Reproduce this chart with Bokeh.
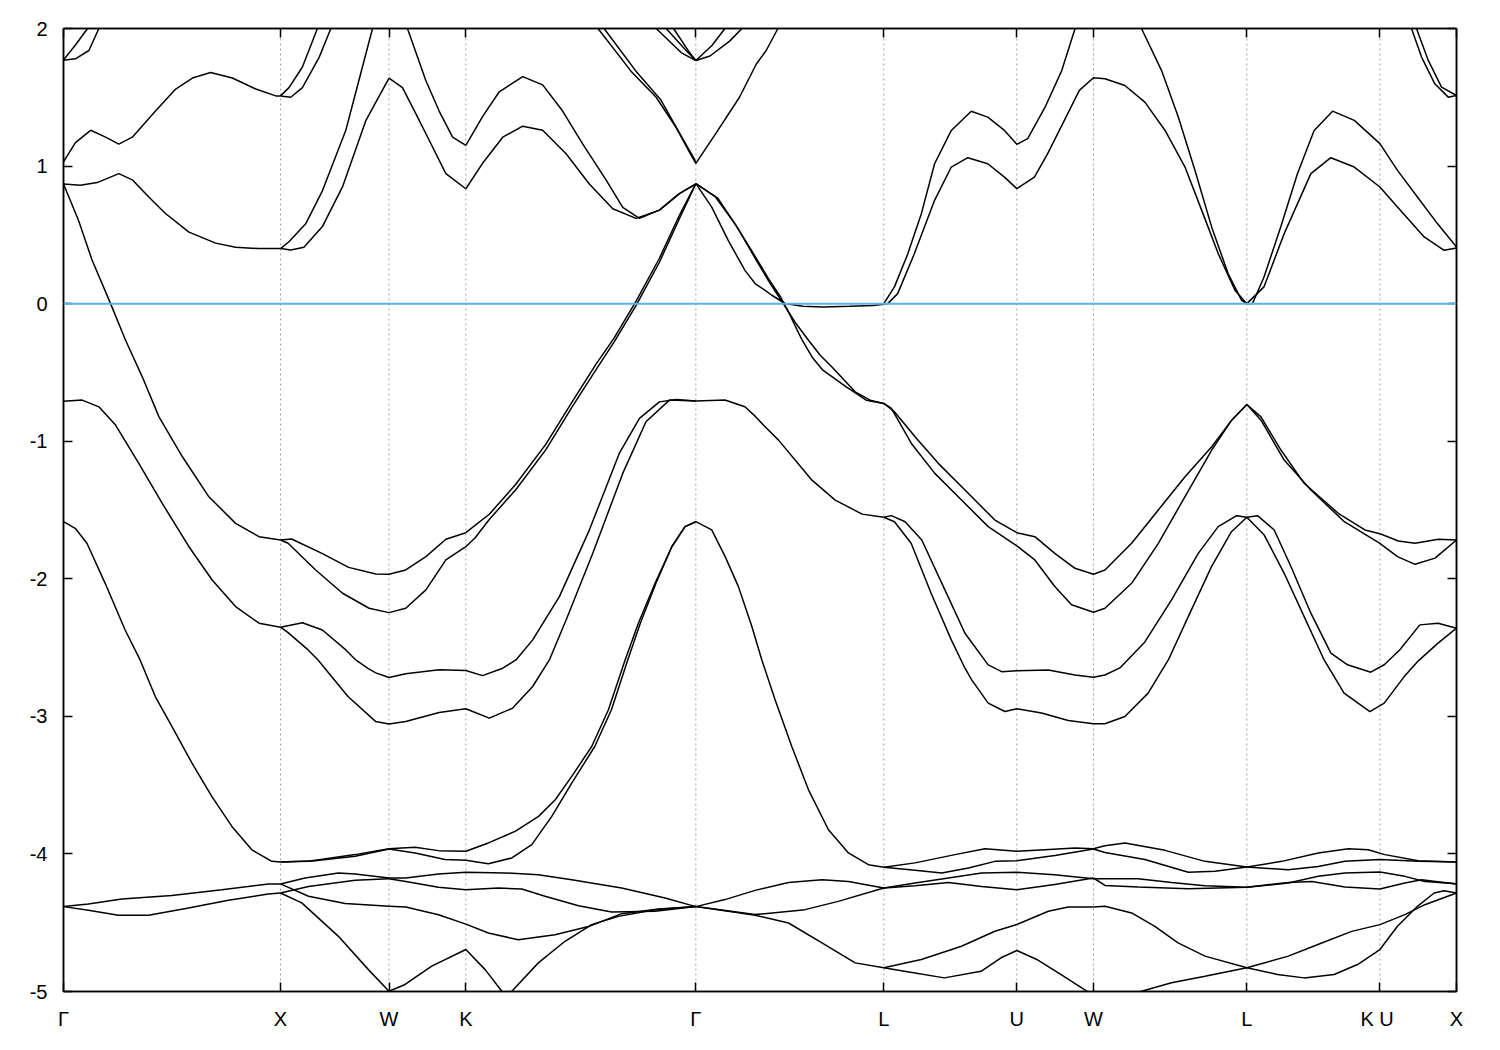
from bokeh.plotting import figure
from bokeh.models import Range1d, FixedTicker, LinearAxis, Span
from bokeh.embed import file_html
from bokeh.resources import INLINE

# ---------------- axes data ----------------
hs_labels = ["Γ", "X", "W", "K", "Γ", "L", "U", "W", "L", "K  U", "X"]
hs_k = [0.0, 1.0, 1.5, 1.854, 2.914, 3.780, 4.393, 4.746, 5.453, 6.066, 6.419]
e_ticks = [-5, -4, -3, -2, -1, 0, 1, 2]
k_min, k_max = 0.0, 6.419
e_min, e_max = -5.0, 2.0
fermi_level = 0.0

# ---------------- band curves: (k, E in eV) ----------------
A1 = [(0.0, 1.77), (0.055, 1.88), (0.111, 2.0), (0.148, 2.09)]
A2 = [(0.0, 1.77), (0.055, 1.78), (0.117, 1.84), (0.163, 2.0), (0.185, 2.09)]
B = [(0.0, 1.03), (0.055, 1.17), (0.125, 1.26), (0.194, 1.21), (0.255, 1.16), (0.317, 1.21), (0.424, 1.40),
     (0.517, 1.56), (0.594, 1.64), (0.678, 1.68), (0.778, 1.64), (0.886, 1.56), (0.978, 1.51), (1.0, 1.51)]
XW_top1 = [(1.0, 1.51), (1.039, 1.57), (1.101, 1.72), (1.170, 2.0), (1.195, 2.09)]
XW_top2 = [(1.0, 1.51), (1.047, 1.50), (1.101, 1.57), (1.178, 1.79), (1.232, 2.0), (1.255, 2.09)]
C = [(0.0, 0.87), (0.078, 0.86), (0.155, 0.88), (0.255, 0.945), (0.317, 0.90), (0.393, 0.775), (0.470, 0.655),
     (0.578, 0.52), (0.701, 0.44), (0.793, 0.41), (0.899, 0.40), (1.0, 0.40)]
C_a = [(1.0, 0.40), (1.039, 0.45), (1.116, 0.58), (1.193, 0.82), (1.301, 1.26), (1.424, 2.0), (1.439, 2.09)]
C_b = [(1.0, 0.40), (1.047, 0.39), (1.108, 0.41), (1.193, 0.56), (1.286, 0.85), (1.393, 1.33), (1.5, 1.64),
       (1.562, 1.57), (1.624, 1.38), (1.670, 1.235), (1.762, 0.945), (1.854, 0.835), (1.931, 1.02), (2.024, 1.21),
       (2.116, 1.29), (2.208, 1.26), (2.316, 1.09), (2.423, 0.87), (2.531, 0.69), (2.638, 0.62), (2.746, 0.68),
       (2.838, 0.80), (2.914, 0.87)]
WK_top = [(1.559, 2.09), (1.585, 2.0), (1.670, 1.62), (1.731, 1.40), (1.793, 1.21), (1.854, 1.15), (1.931, 1.36),
          (2.008, 1.54), (2.116, 1.65), (2.208, 1.59), (2.300, 1.40), (2.393, 1.16), (2.500, 0.90), (2.577, 0.70),
          (2.654, 0.62), (2.746, 0.68), (2.838, 0.80), (2.914, 0.87)]
G2_top1 = [(2.431, 2.09), (2.463, 2.0), (2.615, 1.69), (2.731, 1.50), (2.823, 1.28), (2.892, 1.08), (2.914, 1.02)]
G2_top2 = [(2.463, 2.09), (2.491, 2.0), (2.638, 1.69), (2.753, 1.48), (2.846, 1.22), (2.906, 1.055), (2.914, 1.02)]
G2_right = [(2.914, 1.02), (3.007, 1.24), (3.115, 1.50), (3.192, 1.74), (3.238, 1.84), (3.292, 2.0), (3.321, 2.09)]
T1 = [(2.661, 2.09), (2.731, 2.0), (2.846, 1.825), (2.914, 1.767)]
T2 = [(2.731, 2.09), (2.777, 2.0), (2.869, 1.84), (2.914, 1.767)]
T3 = [(2.792, 2.09), (2.811, 2.0), (2.885, 1.825), (2.914, 1.767)]
T4 = [(2.914, 1.767), (2.979, 1.80), (3.071, 1.91), (3.126, 2.0), (3.163, 2.09)]
T5 = [(2.914, 1.767), (2.988, 1.876), (3.048, 2.0), (3.085, 2.09)]

D = [(0.0, 0.87), (0.069, 0.606), (0.132, 0.315), (0.217, 0.0), (0.286, -0.266), (0.363, -0.532), (0.440, -0.823),
     (0.548, -1.113), (0.670, -1.404), (0.793, -1.597), (0.901, -1.694), (1.0, -1.718)]
D_up = [(1.0, -1.718), (1.051, -1.711), (1.191, -1.815), (1.314, -1.917), (1.439, -1.965), (1.5, -1.967),
        (1.577, -1.936), (1.670, -1.839), (1.762, -1.713), (1.854, -1.665)]
D_lo = [(1.0, -1.718), (1.035, -1.742), (1.162, -1.936), (1.286, -2.105), (1.408, -2.214), (1.5, -2.246),
        (1.577, -2.214), (1.670, -2.081), (1.762, -1.863), (1.854, -1.767)]
Dk1 = [(1.854, -1.665), (1.962, -1.531), (2.085, -1.311), (2.223, -1.021), (2.346, -0.709), (2.454, -0.440),
       (2.537, -0.251), (2.638, 0.017), (2.746, 0.330), (2.838, 0.642), (2.914, 0.872)]
Dk2 = [(1.854, -1.767), (1.896, -1.704), (1.962, -1.569), (2.085, -1.351), (2.223, -1.061), (2.346, -0.745),
       (2.454, -0.480), (2.537, -0.280), (2.638, -0.015), (2.746, 0.301), (2.838, 0.617), (2.914, 0.872)]
GL1 = [(2.914, 0.872), (2.987, 0.702), (3.063, 0.460), (3.140, 0.242), (3.187, 0.146), (3.233, 0.097),
       (3.264, 0.061), (3.325, 0.001), (3.407, -0.019), (3.499, -0.024), (3.622, -0.019), (3.730, -0.014),
       (3.780, -0.004)]
GL2 = [(2.914, 0.872), (3.002, 0.780), (3.094, 0.580), (3.173, 0.380), (3.247, 0.185), (3.302, 0.054),
       (3.348, -0.084), (3.381, -0.193), (3.404, -0.266), (3.450, -0.389), (3.499, -0.484), (3.607, -0.605),
       (3.699, -0.702), (3.780, -0.726)]
GL3 = [(2.914, 0.872), (3.016, 0.765), (3.108, 0.547), (3.187, 0.330), (3.256, 0.148), (3.316, 0.003),
       (3.371, -0.135), (3.433, -0.266), (3.487, -0.375), (3.541, -0.460), (3.648, -0.641), (3.717, -0.702),
       (3.780, -0.726)]

E = [(0.0, -0.709), (0.086, -0.701), (0.163, -0.750), (0.240, -0.883), (0.347, -1.161), (0.455, -1.452),
     (0.578, -1.767), (0.685, -2.009), (0.793, -2.202), (0.901, -2.323), (1.0, -2.352)]
E_up = [(1.0, -2.352), (1.101, -2.319), (1.193, -2.372), (1.301, -2.517), (1.347, -2.590), (1.401, -2.650),
        (1.439, -2.684), (1.5, -2.718), (1.577, -2.691), (1.731, -2.662), (1.854, -2.667), (1.931, -2.704),
        (2.024, -2.650), (2.085, -2.590), (2.162, -2.444), (2.285, -2.130), (2.423, -1.646), (2.561, -1.089),
        (2.654, -0.834), (2.746, -0.714), (2.823, -0.696), (2.914, -0.707)]
E_lo = [(1.0, -2.352), (1.035, -2.391), (1.127, -2.517), (1.173, -2.590), (1.204, -2.650), (1.311, -2.856),
        (1.439, -3.038), (1.5, -3.056), (1.577, -3.038), (1.731, -2.972), (1.854, -2.945), (1.962, -3.013),
        (2.070, -2.940), (2.162, -2.783), (2.239, -2.590), (2.316, -2.300), (2.439, -1.815), (2.577, -1.234),
        (2.684, -0.859), (2.792, -0.701), (2.914, -0.707)]
GL_mid = [(2.914, -0.707), (3.048, -0.701), (3.140, -0.750), (3.187, -0.818), (3.233, -0.895), (3.295, -0.992),
          (3.449, -1.283), (3.556, -1.428), (3.680, -1.530), (3.780, -1.553)]

LUW_up = [(3.780, -1.553), (3.815, -1.541), (3.878, -1.585), (3.955, -1.718), (4.062, -2.082), (4.154, -2.396),
          (4.261, -2.626), (4.323, -2.675), (4.393, -2.668), (4.538, -2.663), (4.661, -2.699), (4.746, -2.716),
          (4.799, -2.699), (4.868, -2.648), (4.983, -2.459), (5.106, -2.154), (5.229, -1.815), (5.321, -1.621),
          (5.406, -1.541), (5.453, -1.553)]
LUW_lo = [(3.780, -1.553), (3.829, -1.585), (3.906, -1.742), (3.998, -2.105), (4.091, -2.444), (4.154, -2.650),
          (4.185, -2.735), (4.261, -2.904), (4.338, -2.965), (4.393, -2.945), (4.507, -2.976), (4.630, -3.030),
          (4.746, -3.054), (4.799, -3.054), (4.891, -3.001), (4.998, -2.831), (5.091, -2.590), (5.183, -2.275),
          (5.290, -1.912), (5.382, -1.658), (5.453, -1.553)]
LKX_a = [(5.453, -1.553), (5.502, -1.541), (5.579, -1.645), (5.656, -1.911), (5.748, -2.250), (5.840, -2.540),
         (5.917, -2.625), (6.024, -2.679), (6.086, -2.625), (6.158, -2.516), (6.250, -2.335), (6.334, -2.323),
         (6.419, -2.359)]
LKX_b = [(5.453, -1.553), (5.533, -1.682), (5.625, -1.960), (5.717, -2.275), (5.809, -2.590), (5.901, -2.831),
         (6.020, -2.965), (6.086, -2.904), (6.178, -2.711), (6.238, -2.604), (6.334, -2.468), (6.419, -2.359)]
P_LUW = [(3.780, -0.725), (3.829, -0.786), (3.924, -0.968), (4.031, -1.161), (4.154, -1.355), (4.292, -1.573),
         (4.393, -1.665), (4.476, -1.694), (4.568, -1.815), (4.661, -1.924), (4.746, -1.967), (4.799, -1.936),
         (4.922, -1.742), (5.045, -1.500), (5.168, -1.258), (5.291, -1.040), (5.383, -0.847), (5.453, -0.733)]
Q_LUW = [(3.780, -0.725), (3.815, -0.762), (3.907, -1.016), (4.015, -1.234), (4.138, -1.427), (4.261, -1.621),
         (4.393, -1.761), (4.476, -1.863), (4.568, -2.056), (4.645, -2.189), (4.746, -2.243), (4.799, -2.214),
         (4.922, -2.033), (5.045, -1.742), (5.168, -1.403), (5.291, -1.064), (5.383, -0.847), (5.453, -0.733)]
R_LKX = [(5.453, -0.733), (5.518, -0.823), (5.610, -1.064), (5.717, -1.306), (5.874, -1.524), (5.997, -1.645),
         (6.070, -1.674), (6.151, -1.725), (6.228, -1.742), (6.335, -1.713), (6.419, -1.718)]
S_LKX = [(5.453, -0.733), (5.518, -0.847), (5.625, -1.137), (5.748, -1.355), (5.902, -1.585), (6.066, -1.742),
         (6.147, -1.839), (6.228, -1.895), (6.320, -1.850), (6.419, -1.718)]

F = [(0.0, -1.585), (0.054, -1.633), (0.108, -1.742), (0.192, -2.033), (0.284, -2.372), (0.353, -2.590),
     (0.423, -2.856), (0.500, -3.074), (0.592, -3.340), (0.684, -3.583), (0.776, -3.800), (0.868, -3.970),
     (0.960, -4.054), (1.0, -4.058)]
F_up = [(1.0, -4.058), (1.129, -4.054), (1.344, -4.005), (1.5, -3.962), (1.620, -3.952), (1.728, -3.976),
        (1.854, -3.981), (1.958, -3.920), (2.081, -3.836), (2.189, -3.727), (2.266, -3.606), (2.342, -3.436),
        (2.434, -3.219), (2.511, -2.952), (2.588, -2.590), (2.649, -2.323), (2.726, -2.033), (2.803, -1.767),
        (2.864, -1.621), (2.914, -1.585)]
F_lo = [(1.0, -4.058), (1.159, -4.049), (1.344, -4.017), (1.5, -3.964), (1.620, -3.993), (1.758, -4.041),
        (1.854, -4.046), (1.958, -4.072), (2.066, -4.029), (2.158, -3.932), (2.250, -3.727), (2.342, -3.485),
        (2.448, -3.219), (2.525, -2.952), (2.600, -2.590), (2.658, -2.323), (2.730, -2.033), (2.803, -1.767),
        (2.864, -1.621), (2.914, -1.585)]
F_GL = [(2.914, -1.585), (2.987, -1.645), (3.049, -1.839), (3.110, -2.057), (3.172, -2.347), (3.218, -2.590),
        (3.279, -2.880), (3.356, -3.219), (3.433, -3.534), (3.525, -3.824), (3.617, -3.993), (3.709, -4.078),
        (3.780, -4.097)]
LX_up = [(3.780, -4.097), (3.924, -4.065), (4.108, -4.005), (4.246, -3.962), (4.393, -3.981), (4.521, -3.969),
         (4.661, -3.957), (4.746, -3.962), (4.799, -3.940), (4.891, -3.920), (5.076, -3.974), (5.260, -4.054),
         (5.453, -4.095), (5.614, -4.054), (5.782, -3.993), (5.921, -3.962), (6.012, -3.969), (6.089, -4.005),
         (6.243, -4.049), (6.419, -4.058)]
LX_lo = [(3.780, -4.097), (3.924, -4.119), (4.047, -4.138), (4.170, -4.102), (4.292, -4.054), (4.393, -4.049),
         (4.568, -4.012), (4.746, -3.964), (4.799, -3.989), (4.983, -4.041), (5.183, -4.133), (5.306, -4.126),
         (5.453, -4.095), (5.643, -4.115), (5.782, -4.091), (5.905, -4.054), (6.066, -4.041), (6.243, -4.054),
         (6.419, -4.058)]

G1 = [(0.0, -4.383), (0.115, -4.364), (0.269, -4.327), (0.499, -4.303), (0.730, -4.260), (0.944, -4.218),
      (1.0, -4.218)]
G2 = [(0.0, -4.383), (0.115, -4.410), (0.253, -4.446), (0.392, -4.446), (0.576, -4.393), (0.760, -4.337),
      (0.944, -4.291), (1.0, -4.284)]
H1 = [(1.0, -4.218), (1.113, -4.175), (1.267, -4.138), (1.344, -4.146), (1.5, -4.175)]
H2 = [(1.0, -4.218), (1.129, -4.308), (1.298, -4.361), (1.5, -4.381)]
H3 = [(1.0, -4.284), (1.129, -4.236), (1.344, -4.192), (1.5, -4.180)]
H4 = [(1.0, -4.284), (1.098, -4.356), (1.267, -4.599), (1.405, -4.841), (1.5, -4.998)]
I1 = [(1.5, -4.175), (1.577, -4.175), (1.728, -4.146), (1.854, -4.134), (2.035, -4.138), (2.188, -4.151),
      (2.342, -4.187), (2.572, -4.247), (2.772, -4.320), (2.914, -4.383)]
I2 = [(1.5, -4.180), (1.577, -4.200), (1.728, -4.243), (1.854, -4.260), (2.004, -4.248), (2.112, -4.255),
      (2.219, -4.308), (2.373, -4.376), (2.526, -4.422), (2.726, -4.417), (2.914, -4.383)]
I3 = [(1.5, -4.381), (1.577, -4.386), (1.728, -4.442), (1.854, -4.510), (1.958, -4.575), (2.096, -4.624),
      (2.265, -4.588), (2.419, -4.527), (2.573, -4.434), (2.742, -4.400), (2.914, -4.383)]
I4 = [(1.5, -4.998), (1.574, -4.949), (1.697, -4.816), (1.854, -4.695), (1.943, -4.841), (2.020, -4.998),
      (2.040, -5.04)]
I5 = [(2.049, -5.04), (2.066, -4.998), (2.188, -4.792), (2.311, -4.635), (2.434, -4.514), (2.557, -4.454),
      (2.726, -4.405), (2.914, -4.383)]
J1 = [(2.914, -4.383), (3.048, -4.332), (3.187, -4.265), (3.341, -4.207), (3.495, -4.187), (3.617, -4.200),
      (3.780, -4.248)]
J2 = [(2.914, -4.383), (3.110, -4.424), (3.187, -4.441), (3.417, -4.405), (3.570, -4.345), (3.780, -4.248)]
J3 = [(2.914, -4.383), (3.110, -4.427), (3.187, -4.445), (3.341, -4.502), (3.495, -4.647), (3.648, -4.792),
      (3.780, -4.828)]
K1 = [(3.780, -4.248), (3.924, -4.211), (4.078, -4.175), (4.231, -4.138), (4.393, -4.134), (4.567, -4.151),
      (4.746, -4.180)]
K2 = [(3.780, -4.248), (3.924, -4.231), (4.078, -4.207), (4.231, -4.236), (4.393, -4.260), (4.567, -4.223),
      (4.746, -4.175)]
M1 = [(4.746, -4.180), (4.799, -4.180), (4.952, -4.180), (5.106, -4.207), (5.260, -4.231), (5.453, -4.243),
      (5.644, -4.211), (5.782, -4.163), (5.905, -4.138), (6.066, -4.131), (6.181, -4.163), (6.273, -4.200),
      (6.419, -4.216)]
M2 = [(4.746, -4.175), (4.799, -4.229), (4.952, -4.241), (5.183, -4.254), (5.453, -4.243), (5.644, -4.207),
      (5.752, -4.200), (5.905, -4.240), (6.066, -4.255), (6.181, -4.211), (6.258, -4.187), (6.419, -4.218)]
N1 = [(4.746, -4.386), (4.799, -4.381), (4.922, -4.429), (5.029, -4.526), (5.136, -4.647), (5.260, -4.743),
      (5.453, -4.828), (5.594, -4.876), (5.717, -4.901), (5.855, -4.876), (5.963, -4.804), (6.066, -4.695),
      (6.147, -4.526), (6.239, -4.381), (6.316, -4.284), (6.362, -4.267), (6.419, -4.284)]
N2 = [(4.868, -5.04), (4.968, -4.998), (5.106, -4.937), (5.260, -4.889), (5.453, -4.828), (5.644, -4.743),
      (5.798, -4.647), (5.936, -4.563), (6.066, -4.514), (6.181, -4.441), (6.273, -4.369), (6.419, -4.284)]
O1 = [(3.780, -4.828), (3.953, -4.767), (4.138, -4.671), (4.292, -4.562), (4.393, -4.513), (4.538, -4.417),
      (4.630, -4.386), (4.746, -4.386)]
O2 = [(3.780, -4.828), (3.875, -4.853), (4.059, -4.901), (4.228, -4.853), (4.320, -4.755), (4.393, -4.702),
      (4.485, -4.767), (4.608, -4.889), (4.715, -4.998), (4.769, -5.06)]

U1 = [(3.780, 0.0), (3.829, 0.122), (3.891, 0.364), (3.953, 0.654), (4.014, 1.017), (4.091, 1.259),
      (4.183, 1.399), (4.259, 1.356), (4.336, 1.259), (4.393, 1.158), (4.443, 1.199), (4.523, 1.428),
      (4.600, 1.694), (4.661, 1.998), (4.684, 2.094)]
U2 = [(3.780, 0.0), (3.798, 0.0), (3.844, 0.073), (3.921, 0.364), (4.014, 0.751), (4.091, 0.993), (4.167, 1.061),
      (4.259, 1.017), (4.336, 0.920), (4.393, 0.836), (4.474, 0.920), (4.535, 1.090), (4.612, 1.332),
      (4.681, 1.550), (4.746, 1.642), (4.799, 1.635), (4.891, 1.586), (4.983, 1.465), (5.076, 1.259),
      (5.168, 0.993), (5.245, 0.678), (5.321, 0.364), (5.398, 0.097), (5.453, 0.0)]
U3 = [(4.951, 2.094), (4.968, 1.998), (5.060, 1.694), (5.137, 1.356), (5.214, 0.968), (5.291, 0.556),
      (5.367, 0.217), (5.429, 0.024), (5.453, 0.0)]
V1 = [(5.453, 0.0), (5.479, 0.001), (5.532, 0.194), (5.609, 0.557), (5.686, 0.944), (5.763, 1.259),
      (5.848, 1.399), (5.948, 1.332), (6.066, 1.163), (6.147, 0.969), (6.239, 0.775), (6.331, 0.582),
      (6.419, 0.412)]
V2 = [(5.453, 0.0), (5.532, 0.122), (5.625, 0.509), (5.748, 0.945), (5.840, 1.061), (5.948, 0.993),
      (6.066, 0.848), (6.147, 0.703), (6.270, 0.485), (6.362, 0.388), (6.419, 0.404)]
W1 = [(6.199, 2.094), (6.212, 1.998), (6.258, 1.792), (6.319, 1.598), (6.381, 1.501), (6.419, 1.513)]
W2 = [(6.218, 2.094), (6.235, 1.998), (6.289, 1.768), (6.350, 1.574), (6.419, 1.513)]

bands = [A1, A2, B, XW_top1, XW_top2, C, C_a, C_b, WK_top, G2_top1, G2_top2, G2_right, T1, T2, T3, T4, T5,
         D, D_up, D_lo, Dk1, Dk2, GL1, GL2, GL3, E, E_up, E_lo, GL_mid, LUW_up, LUW_lo, LKX_a, LKX_b,
         P_LUW, Q_LUW, R_LKX, S_LKX, F, F_up, F_lo, F_GL, LX_up, LX_lo, G1, G2, H1, H2, H3, H4,
         I1, I2, I3, I4, I5, J1, J2, J3, K1, K2, M1, M2, N1, N2, O1, O2, U1, U2, U3, V1, V2, W1, W2]

# ---------------- figure ----------------
FONT = "Liberation Sans"
p = figure(width=1491, height=1036, x_range=Range1d(k_min, k_max), y_range=Range1d(e_min, e_max),
           output_backend="svg", toolbar_location=None,
           min_border_left=63, min_border_right=35, min_border_top=28, min_border_bottom=45)
p.grid.visible = False
p.background_fill_color = "white"
p.border_fill_color = "white"
p.outline_line_color = "black"
p.outline_line_width = 1.5

for kk in hs_k[1:-1]:
    p.add_layout(Span(location=kk, dimension="height", line_color="#a0a0a0",
                      line_dash="2 3", line_width=1, level="underlay"))

xs = [[pt[0] for pt in band] for band in bands]
ys = [[pt[1] for pt in band] for band in bands]
p.multi_line(xs, ys, line_color="black", line_width=1.5)

p.add_layout(Span(location=fermi_level, dimension="width", line_color="#56B4E9", line_width=2))


def style_axis(ax):
    ax.axis_line_color = "black"
    ax.axis_line_width = 1.5
    ax.major_tick_in = 9
    ax.major_tick_out = 0
    ax.major_tick_line_color = "black"
    ax.major_tick_line_width = 1.5
    ax.minor_tick_line_color = None
    ax.major_label_text_font = FONT
    ax.major_label_text_font_size = "20px"
    ax.major_label_text_color = "black"


xa = p.xaxis[0]
xa.ticker = FixedTicker(ticks=hs_k)
xa.major_label_overrides = {kk: lab for kk, lab in zip(hs_k, hs_labels)}
style_axis(xa)
xa.major_label_standoff = 16

ya = p.yaxis[0]
ya.ticker = FixedTicker(ticks=e_ticks)
ya.major_label_overrides = {t: str(t) for t in e_ticks}
style_axis(ya)
ya.major_label_standoff = 16

ra = LinearAxis(ticker=FixedTicker(ticks=e_ticks), major_label_overrides={t: "" for t in e_ticks})
style_axis(ra)
p.add_layout(ra, "right")

ta = LinearAxis(ticker=FixedTicker(ticks=hs_k), major_label_overrides={kk: "" for kk in hs_k})
style_axis(ta)
p.add_layout(ta, "above")

html = file_html(p, INLINE, title="Band structure")
with open("out.html", "w", encoding="utf-8") as fh:
    fh.write(html)
